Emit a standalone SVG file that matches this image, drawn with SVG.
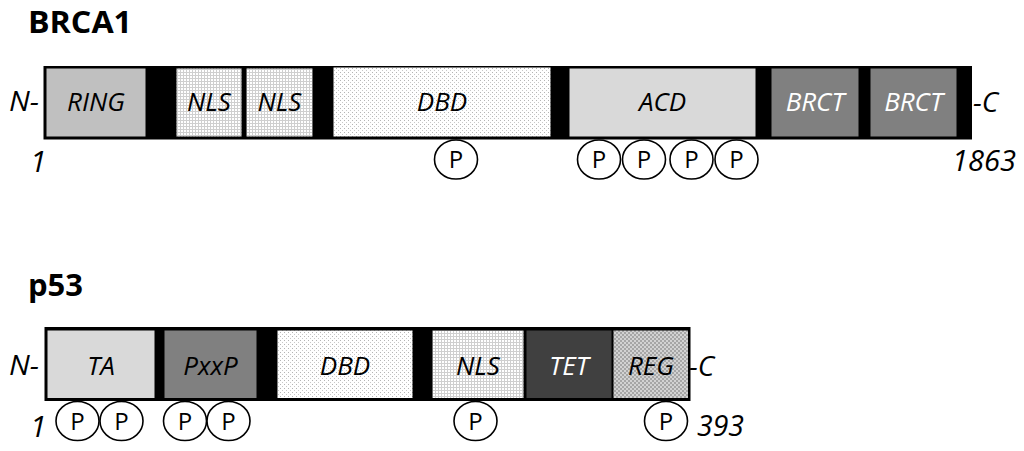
<svg xmlns="http://www.w3.org/2000/svg" width="1024" height="451" viewBox="0 0 1024 451">
<defs>
<pattern id="grid" width="3" height="3" patternUnits="userSpaceOnUse">
<rect width="3" height="3" fill="#ffffff"/>
<rect x="0" y="0" width="3" height="1" fill="#cfcfcf"/>
<rect x="0" y="0" width="1" height="3" fill="#cfcfcf"/>
</pattern>
<pattern id="dots" width="4" height="4" patternUnits="userSpaceOnUse">
<rect width="4" height="4" fill="#ffffff"/>
<rect x="0" y="0" width="1" height="1" fill="#b4b4b4"/>
<rect x="2" y="2" width="1" height="1" fill="#c8c8c8"/>
</pattern>
<pattern id="checker" width="4" height="4" patternUnits="userSpaceOnUse">
<rect width="4" height="4" fill="#d2d2d2"/>
<rect x="0" y="0" width="2" height="2" fill="#a6a6a6"/>
<rect x="2" y="2" width="2" height="2" fill="#a6a6a6"/>
</pattern>
</defs>
<style>
.title{font-family:"Open Sans","Liberation Sans",sans-serif;font-weight:bold;font-size:30px;fill:#000}
.lbl{font-family:"Open Sans","Liberation Sans",sans-serif;font-style:italic;font-size:26px;text-anchor:middle;fill:#000}
.wl{fill:#ffffff}
.end{font-family:"Open Sans","Liberation Sans",sans-serif;font-style:italic;font-size:28px;fill:#000}
.num{font-family:"Open Sans","Liberation Sans",sans-serif;font-style:italic;font-size:30px;fill:#000}
.bar{fill:#000}
.dom{stroke:#000;stroke-width:1}
.pc{fill:#fff;stroke:#000;stroke-width:1.6}
.pt{font-family:"Open Sans","Liberation Sans",sans-serif;font-size:24px;text-anchor:middle;fill:#000}
</style>
<g id="brca1">
<text class="title" x="28" y="33" textLength="104" lengthAdjust="spacingAndGlyphs">BRCA1</text>
<text class="end" x="9" y="111" textLength="30" lengthAdjust="spacingAndGlyphs">N-</text>
<text class="end" x="973" y="112">-C</text>
<text class="num" x="30" y="172">1</text>
<text class="num" x="952" y="171" textLength="64" lengthAdjust="spacingAndGlyphs">1863</text>
<rect class="bar" x="43.5" y="66" width="928.5" height="73.5"/>
<g id="brca1-ring"><rect class="dom" x="46" y="68" width="100" height="69" fill="#c0c0c0"/><text class="lbl" x="96" y="111">RING</text></g>
<g id="brca1-nls1"><rect class="dom" x="176" y="68" width="66" height="69" fill="url(#grid)"/><text class="lbl" x="209" y="111">NLS</text></g>
<g id="brca1-nls2"><rect class="dom" x="246" y="68" width="67" height="69" fill="url(#grid)"/><text class="lbl" x="279.5" y="111">NLS</text></g>
<g id="brca1-dbd"><rect class="dom" x="333" y="67" width="218" height="70" fill="url(#dots)"/><text class="lbl" x="442" y="111">DBD</text></g>
<g id="brca1-acd"><rect class="dom" x="569" y="68" width="187" height="69" fill="#d9d9d9"/><text class="lbl" x="662.5" y="111">ACD</text></g>
<g id="brca1-brct1"><rect class="dom" x="771" y="68" width="88" height="69" fill="#808080"/><text class="lbl wl" x="815" y="111">BRCT</text></g>
<g id="brca1-brct2"><rect class="dom" x="870" y="68" width="87" height="69" fill="#808080"/><text class="lbl wl" x="913.5" y="111">BRCT</text></g>
<g id="brca1-p1"><ellipse class="pc" cx="456" cy="159.5" rx="21.5" ry="19.5"/><text class="pt" x="456" y="168">P</text></g>
<g id="brca1-p2"><ellipse class="pc" cx="599" cy="159.5" rx="21.5" ry="19.5"/><text class="pt" x="599" y="168">P</text></g>
<g id="brca1-p3"><ellipse class="pc" cx="644" cy="159.5" rx="21.5" ry="19.5"/><text class="pt" x="644" y="168">P</text></g>
<g id="brca1-p4"><ellipse class="pc" cx="691.5" cy="159.5" rx="21.5" ry="19.5"/><text class="pt" x="691.5" y="168">P</text></g>
<g id="brca1-p5"><ellipse class="pc" cx="736.5" cy="159.5" rx="21.5" ry="19.5"/><text class="pt" x="736.5" y="168">P</text></g>
</g>
<g id="p53">
<text class="title" x="28" y="296" textLength="55" lengthAdjust="spacingAndGlyphs">p53</text>
<text class="end" x="9" y="375" textLength="30" lengthAdjust="spacingAndGlyphs">N-</text>
<text class="end" x="689" y="376">-C</text>
<text class="num" x="30" y="437">1</text>
<text class="num" x="697" y="436" textLength="47" lengthAdjust="spacingAndGlyphs">393</text>
<rect class="bar" x="44.5" y="327" width="646" height="74"/>
<g id="p53-ta"><rect class="dom" x="47" y="330" width="108" height="68.5" fill="#d9d9d9"/><text class="lbl" x="101" y="375">TA</text></g>
<g id="p53-pxxp"><rect class="dom" x="164" y="330" width="93" height="68.5" fill="#808080"/><text class="lbl" x="210.5" y="375">PxxP</text></g>
<g id="p53-dbd"><rect class="dom" x="277" y="330" width="136" height="68.5" fill="url(#dots)"/><text class="lbl" x="345" y="375">DBD</text></g>
<g id="p53-nls"><rect class="dom" x="432" y="330" width="92" height="68.5" fill="url(#grid)"/><text class="lbl" x="478" y="375">NLS</text></g>
<g id="p53-tet"><rect class="dom" x="526" y="330" width="86" height="68.5" fill="#404040"/><text class="lbl wl" x="569" y="375">TET</text></g>
<g id="p53-reg"><rect class="dom" x="613" y="330" width="75.5" height="68.5" fill="url(#checker)"/><text class="lbl" x="651" y="375">REG</text></g>
<g id="p53-p1"><ellipse class="pc" cx="77.5" cy="421" rx="21.5" ry="19.5"/><text class="pt" x="77.5" y="429.5">P</text></g>
<g id="p53-p2"><ellipse class="pc" cx="121.5" cy="421" rx="21.5" ry="19.5"/><text class="pt" x="121.5" y="429.5">P</text></g>
<g id="p53-p3"><ellipse class="pc" cx="185" cy="421" rx="21.5" ry="19.5"/><text class="pt" x="185" y="429.5">P</text></g>
<g id="p53-p4"><ellipse class="pc" cx="228.5" cy="421" rx="21.5" ry="19.5"/><text class="pt" x="228.5" y="429.5">P</text></g>
<g id="p53-p5"><ellipse class="pc" cx="475.5" cy="421" rx="21.5" ry="19.5"/><text class="pt" x="475.5" y="429.5">P</text></g>
<g id="p53-p6"><ellipse class="pc" cx="666" cy="421" rx="21.5" ry="19.5"/><text class="pt" x="666" y="429.5">P</text></g>
</g>
<g id="connectors"/>
</svg>
